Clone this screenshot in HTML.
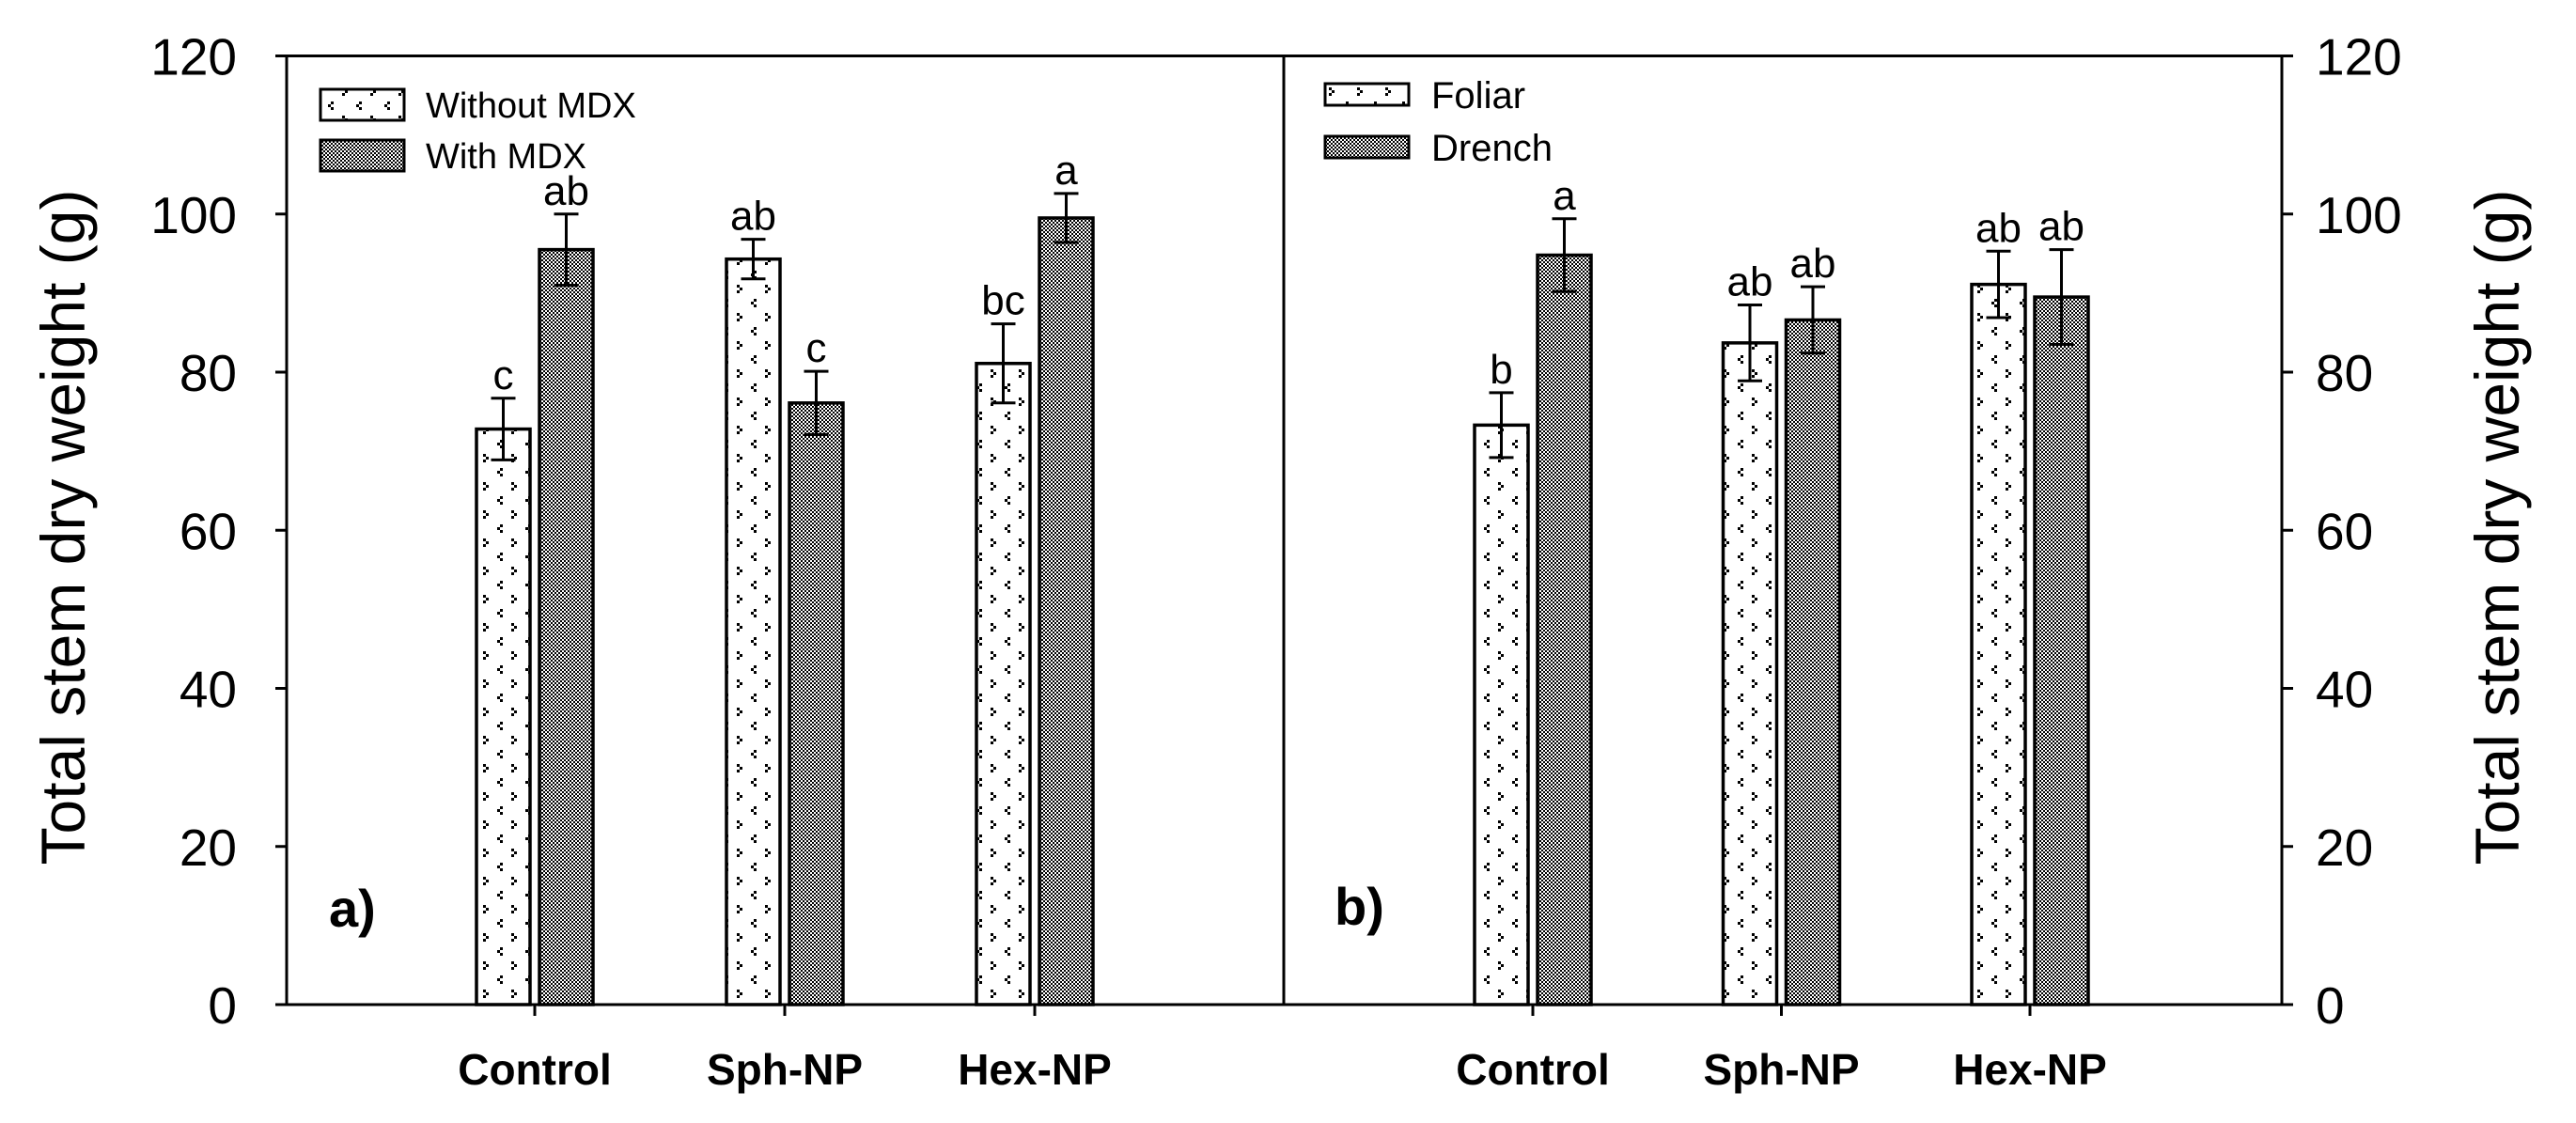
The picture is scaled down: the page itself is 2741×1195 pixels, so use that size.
<!DOCTYPE html>
<html><head><meta charset="utf-8"><style>
html,body{margin:0;padding:0;background:#fff;}
svg{display:block;font-family:"Liberation Sans",Arial,sans-serif;}
</style></head><body>
<svg id="chart" width="2741" height="1195" viewBox="0 0 2741 1195" xmlns="http://www.w3.org/2000/svg">
<defs>
<pattern id="dotpat" width="30" height="30" patternUnits="userSpaceOnUse">
<rect width="30" height="30" fill="#fff"/>
<rect x="4" y="3" width="3" height="3" fill="#000"/><rect x="7" y="6" width="3" height="3" fill="#000"/><rect x="4" y="9" width="3" height="3" fill="#000"/>
<rect x="22" y="18" width="3" height="3" fill="#000"/><rect x="19" y="21" width="3" height="3" fill="#000"/><rect x="22" y="24" width="3" height="3" fill="#000"/>
</pattern>
<pattern id="darkpat" width="4" height="4" patternUnits="userSpaceOnUse">
<rect width="4" height="4" fill="#fff"/>
<rect x="0" y="0" width="2" height="2" fill="#000"/><rect x="2" y="2" width="2" height="2" fill="#000"/>
</pattern>
</defs>
<g id="root"></g>
</svg>
<script>
const categories = ["Control", "Sph-NP", "Hex-NP"];
const leftSeriesNames = ["Without MDX", "With MDX"];
const rightSeriesNames = ["Foliar", "Drench"];
const leftWithout = [72.8, 94.3, 81.1];
const leftWithoutErr = [3.9, 2.5, 5.0];
const leftWith = [95.5, 76.1, 99.5];
const leftWithErr = [4.5, 4.0, 3.1];
const rightFoliar = [73.3, 83.7, 91.1];
const rightFoliarErr = [4.1, 4.8, 4.2];
const rightDrench = [94.8, 86.6, 89.5];
const rightDrenchErr = [4.6, 4.2, 6.0];
const leftLetters1 = ["c", "ab", "bc"];
const leftLetters2 = ["ab", "c", "a"];
const rightLetters1 = ["b", "ab", "ab"];
const rightLetters2 = ["a", "ab", "ab"];
const yTicks = [0, 20, 40, 60, 80, 100, 120];

const NS = "http://www.w3.org/2000/svg";
const rootG = document.getElementById("root");
function mk(tag, attrs, parent) {
  const el = document.createElementNS(NS, tag);
  for (const k in attrs) el.setAttribute(k, attrs[k]);
  (parent || rootG).appendChild(el);
  return el;
}
const plotTop = 59.5, plotBottom = 1069;
function yScale(v) { return plotBottom - v / 120 * (plotBottom - plotTop); }
const PL = 305, PM = 1366, PR = 2428;
function xLeft(i) { return 569 + i * 266; }
function xRight(i) { return 1631 + i * 264.5; }
const bw = 57, gap = 10;

let e;
e = mk("rect", {x: PL, y: plotTop, width: PR - PL, height: plotBottom - plotTop, fill: "none", stroke: "#000", "stroke-width": 3});


e = mk("line", {x1: PM, y1: plotTop, x2: PM, y2: plotBottom, stroke: "#000", "stroke-width": 3});



yTicks.forEach(t => {
  const yy = yScale(t);
  e = mk("line", {x1: PL - 12, y1: yy, x2: PL, y2: yy, stroke: "#000", "stroke-width": 3});
  
  
  e = mk("text", {x: 252, y: yy + 20, "text-anchor": "end", "font-size": 55});
  e.textContent = t;
  
  
  e = mk("line", {x1: PR, y1: yy, x2: PR + 12, y2: yy, stroke: "#000", "stroke-width": 3});
  
  
  e = mk("text", {x: 2464, y: yy + 20, "text-anchor": "start", "font-size": 55});
  e.textContent = t;
  
  
});

e = mk("text", {x: 0, y: 0, transform: "translate(90,561) rotate(-90)", "text-anchor": "middle", "font-size": 66});
e.textContent = "Total stem dry weight (g)";


e = mk("text", {x: 0, y: 0, transform: "translate(2680,561) rotate(-90)", "text-anchor": "middle", "font-size": 66});
e.textContent = "Total stem dry weight (g)";



function drawPanel(xf, s1, e1, s2, e2, l1, l2, prefix) {
  categories.forEach((c, i) => {
    const cx = xf(i);
    e = mk("line", {x1: cx, y1: plotBottom, x2: cx, y2: plotBottom + 12, stroke: "#000", "stroke-width": 3});
    
    
    e = mk("text", {x: cx, y: 1154, "text-anchor": "middle", "font-size": 46, "font-weight": "bold"});
    e.textContent = c;
    
    
    [[s1, e1, l1, cx - gap / 2 - bw, "url(#dotpat)", "series1"], [s2, e2, l2, cx + gap / 2, "url(#darkpat)", "series2"]].forEach(([s, er, lab, bx, fill, nm]) => {
      const v = s[i], yt = yScale(v);
      e = mk("rect", {x: bx, y: yt, width: bw, height: plotBottom - yt, fill: fill, stroke: "#000", "stroke-width": 3.5});
      
      
      const mx = bx + bw / 2, y1 = yScale(v + er[i]), y2 = yScale(v - er[i]);
      e = mk("path", {d: `M${mx},${y1}V${y2}M${mx - 13},${y1}H${mx + 13}M${mx - 13},${y2}H${mx + 13}`, stroke: "#000", "stroke-width": 3, fill: "none"});
      
      
      e = mk("text", {x: mx, y: y1 - 10, "text-anchor": "middle", "font-size": 44});
      e.textContent = lab[i];
      
      
    });
  });
}
drawPanel(xLeft, leftWithout, leftWithoutErr, leftWith, leftWithErr, leftLetters1, leftLetters2, "left");
drawPanel(xRight, rightFoliar, rightFoliarErr, rightDrench, rightDrenchErr, rightLetters1, rightLetters2, "right");

function legend(x, tx, ys, hs, names, prefix, fs) {
  names.forEach((n, i) => {
    e = mk("rect", {x: x, y: ys[i], width: 89, height: hs, fill: i === 0 ? "url(#dotpat)" : "url(#darkpat)", stroke: "#000", "stroke-width": 3});
    
    
    e = mk("text", {x: tx, y: ys[i] + hs / 2 + fs * 0.36, "font-size": fs});
    e.textContent = n;
    
    
  });
}
legend(341, 453, [95, 149], 33, leftSeriesNames, "left", 38);
legend(1410, 1523, [89, 145], 23, rightSeriesNames, "right", 40);

e = mk("text", {x: 350, y: 986, "font-size": 56, "font-weight": "bold"});
e.textContent = "a)";


e = mk("text", {x: 1420, y: 984, "font-size": 56, "font-weight": "bold"});
e.textContent = "b)";


</script>
</body></html>
